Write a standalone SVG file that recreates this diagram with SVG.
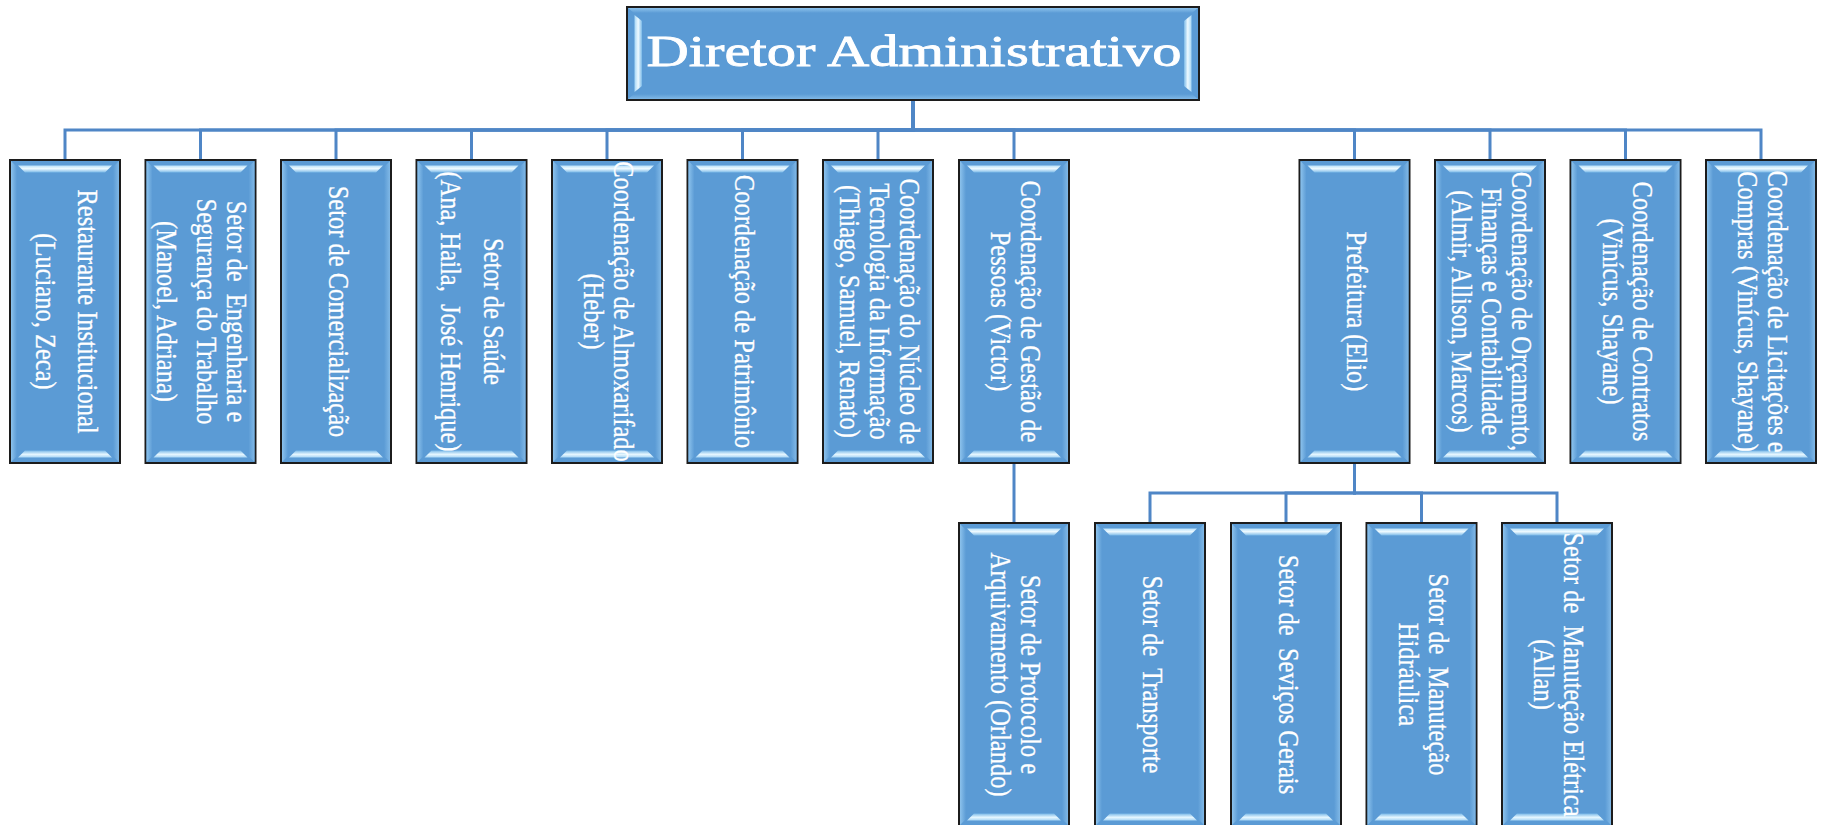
<svg xmlns="http://www.w3.org/2000/svg" xmlns:xlink="http://www.w3.org/1999/xlink" width="1825" height="825" viewBox="0 0 1825 825">
<style>
.bx{fill:#5B9BD5;stroke:#1c1c1c;stroke-width:2}
.t{font-family:"Liberation Serif","Times New Roman",serif;font-size:24.5px;fill:#ffffff;text-anchor:middle;stroke:#ffffff;stroke-width:0.25}
.title{font-family:"Liberation Serif","Times New Roman",serif;font-size:44px;fill:#ffffff;stroke:#ffffff;stroke-width:0.8}
.cn{fill:none;stroke:#4F86C6;stroke-width:3}
</style>
<defs>
<linearGradient id="gL" x1="0" y1="0" x2="1" y2="0"><stop offset="0" stop-color="#8cc2ec"/><stop offset="1" stop-color="#5B9BD5"/></linearGradient>
<linearGradient id="gR" x1="0" y1="0" x2="1" y2="0"><stop offset="0" stop-color="#5B9BD5"/><stop offset="1" stop-color="#80b8e6"/></linearGradient>
<linearGradient id="gT" x1="0" y1="0" x2="0" y2="1"><stop offset="0" stop-color="#b9e1fa"/><stop offset="0.45" stop-color="#eefaff"/><stop offset="1" stop-color="#7ab9e8"/></linearGradient>
<linearGradient id="gB" x1="0" y1="0" x2="0" y2="1"><stop offset="0" stop-color="#7ab9e8"/><stop offset="0.55" stop-color="#e6f7ff"/><stop offset="1" stop-color="#a9d6f5"/></linearGradient>
<linearGradient id="gHL" x1="0" y1="0" x2="1" y2="0"><stop offset="0" stop-color="#a5d6f6"/><stop offset="0.5" stop-color="#eefaff"/><stop offset="1" stop-color="#7ab9e8"/></linearGradient>
<linearGradient id="gHR" x1="0" y1="0" x2="1" y2="0"><stop offset="0" stop-color="#7ab9e8"/><stop offset="0.5" stop-color="#eefaff"/><stop offset="1" stop-color="#a5d6f6"/></linearGradient>
<linearGradient id="gHT" x1="0" y1="0" x2="0" y2="1"><stop offset="0" stop-color="#8cc2ec"/><stop offset="1" stop-color="#5B9BD5"/></linearGradient>
<linearGradient id="gHB" x1="0" y1="0" x2="0" y2="1"><stop offset="0" stop-color="#5B9BD5"/><stop offset="1" stop-color="#80b8e6"/></linearGradient>
<symbol id="vbox" viewBox="0 0 112 305" overflow="visible">
<rect x="1" y="1" width="110" height="303" class="bx"/>
<polygon points="2,2 8,8 8,297 2,303" fill="url(#gL)"/>
<polygon points="110,2 104,8 104,297 110,303" fill="url(#gR)"/>
<polygon points="9,6.5 103,6.5 96,13.5 16,13.5" fill="url(#gT)"/>
<polygon points="16,291.5 96,291.5 103,298.5 9,298.5" fill="url(#gB)"/>
</symbol>
<symbol id="hbox" viewBox="0 0 574 95" overflow="visible">
<rect x="1" y="1" width="572" height="93" class="bx"/>
<polygon points="2,2 572,2 566,7 8,7" fill="url(#gHT)"/>
<polygon points="8,88 566,88 572,93 2,93" fill="url(#gHB)"/>
<polygon points="8.5,9 16,15 16,80 8.5,86" fill="url(#gHL)"/>
<polygon points="565.5,9 558,15 558,80 565.5,86" fill="url(#gHR)"/>
</symbol>
</defs>
<rect x="0" y="0" width="1825" height="825" fill="#ffffff"/>

<g id="connectors">
<path class="cn" d="M913,101V130H65V159"/>
<path class="cn" d="M913,101V130H200.5V159"/>
<path class="cn" d="M913,101V130H336V159"/>
<path class="cn" d="M913,101V130H471.5V159"/>
<path class="cn" d="M913,101V130H607V159"/>
<path class="cn" d="M913,101V130H742.5V159"/>
<path class="cn" d="M913,101V130H878V159"/>
<path class="cn" d="M913,101V130H1014V159"/>
<path class="cn" d="M913,101V130H1354.5V159"/>
<path class="cn" d="M913,101V130H1490V159"/>
<path class="cn" d="M913,101V130H1625.5V159"/>
<path class="cn" d="M913,101V130H1761V159"/>
<path class="cn" d="M1014,464V522"/>
<path class="cn" d="M1354.5,464V493H1150V522"/>
<path class="cn" d="M1354.5,464V493H1286V522"/>
<path class="cn" d="M1354.5,464V493H1421.5V522"/>
<path class="cn" d="M1354.5,464V493H1557V522"/>
</g>

<g id="n0">
<use href="#hbox" x="626" y="6" width="574" height="95"/>
<text class="title" x="646.5" y="66" textLength="535" lengthAdjust="spacingAndGlyphs">Diretor Administrativo</text>
</g>

<g id="n1">
<use href="#vbox" x="9" y="159" width="112" height="305"/>
<text class="t" transform="translate(65 311.5) scale(1.2 1) rotate(90)"><tspan x="0" y="-11">Restaurante Institucional</tspan><tspan x="0" y="24">(Luciano, Zeca)</tspan></text>
</g>
<g id="n2">
<use href="#vbox" x="144.5" y="159" width="112" height="305"/>
<text class="t" transform="translate(200.5 311.5) scale(1.2 1) rotate(90)"><tspan x="0" y="-22">Setor de&#160; Engenharia e</tspan><tspan x="0" y="2.5">Segurança do Trabalho</tspan><tspan x="0" y="36">(Manoel, Adriana)</tspan></text>
</g>
<g id="n3">
<use href="#vbox" x="280" y="159" width="112" height="305"/>
<text class="t" transform="translate(336 311.5) scale(1.2 1) rotate(90)"><tspan x="0" y="6">Setor de Comercialização</tspan></text>
</g>
<g id="n4">
<use href="#vbox" x="415.5" y="159" width="112" height="305"/>
<text class="t" transform="translate(471.5 311.5) scale(1.2 1) rotate(90)"><tspan x="0" y="-10.5">Setor de Saúde</tspan><tspan x="0" y="25.5">(Ana, Haila,&#160; José Henrique)</tspan></text>
</g>
<g id="n5">
<use href="#vbox" x="551" y="159" width="112" height="305"/>
<text class="t" transform="translate(607 311.5) scale(1.2 1) rotate(90)"><tspan x="0" y="-6">Coordenação de Almoxarifado</tspan><tspan x="0" y="19">(Heber)</tspan></text>
</g>
<g id="n6">
<use href="#vbox" x="686.5" y="159" width="112" height="305"/>
<text class="t" transform="translate(742.5 311.5) scale(1.2 1) rotate(90)"><tspan x="0" y="6">Coordenação de Patrimônio</tspan></text>
</g>
<g id="n7">
<use href="#vbox" x="822" y="159" width="112" height="305"/>
<text class="t" transform="translate(878 311.5) scale(1.2 1) rotate(90)"><tspan x="0" y="-18.5">Coordenação do Núcleo de</tspan><tspan x="0" y="6.5">Tecnologia da Informação</tspan><tspan x="0" y="31.5">(Thiago, Samuel, Renato)</tspan></text>
</g>
<g id="n8">
<use href="#vbox" x="958" y="159" width="112" height="305"/>
<text class="t" transform="translate(1014 311.5) scale(1.2 1) rotate(90)"><tspan x="0" y="-6">Coordenação de Gestão de</tspan><tspan x="0" y="19">Pessoas (Victor)</tspan></text>
</g>
<g id="n9">
<use href="#vbox" x="1298.5" y="159" width="112" height="305"/>
<text class="t" transform="translate(1354.5 311.5) scale(1.2 1) rotate(90)"><tspan x="0" y="6">Prefeitura (Elio)</tspan></text>
</g>
<g id="n10">
<use href="#vbox" x="1434" y="159" width="112" height="305"/>
<text class="t" transform="translate(1490 311.5) scale(1.2 1) rotate(90)"><tspan x="0" y="-18.5">Coordenação de Orçamento,</tspan><tspan x="0" y="6.5">Finanças e Contabilidade</tspan><tspan x="0" y="31.5">(Almir, Allison, Marcos)</tspan></text>
</g>
<g id="n11">
<use href="#vbox" x="1569.5" y="159" width="112" height="305"/>
<text class="t" transform="translate(1625.5 311.5) scale(1.2 1) rotate(90)"><tspan x="0" y="-6">Coordenação de Contratos</tspan><tspan x="0" y="19">(Vinícus, Shayane)</tspan></text>
</g>
<g id="n12">
<use href="#vbox" x="1705" y="159" width="112" height="305"/>
<text class="t" transform="translate(1761 311.5) scale(1.2 1) rotate(90)"><tspan x="0" y="-6">Coordenação de Licitações e</tspan><tspan x="0" y="19">Compras (Vinícus, Shayane)</tspan></text>
</g>

<g id="n13">
<use href="#vbox" x="958" y="522" width="112" height="305"/>
<text class="t" transform="translate(1014 674.5) scale(1.2 1) rotate(90)"><tspan x="0" y="-6">Setor de Protocolo e</tspan><tspan x="0" y="19">Arquivamento (Orlando)</tspan></text>
</g>
<g id="n14">
<use href="#vbox" x="1094" y="522" width="112" height="305"/>
<text class="t" transform="translate(1150 674.5) scale(1.2 1) rotate(90)"><tspan x="0" y="6">Setor de&#160; Transporte</tspan></text>
</g>
<g id="n15">
<use href="#vbox" x="1230" y="522" width="112" height="305"/>
<text class="t" transform="translate(1286 674.5) scale(1.2 1) rotate(90)"><tspan x="0" y="6">Setor de&#160; Seviços Gerais</tspan></text>
</g>
<g id="n16">
<use href="#vbox" x="1365.5" y="522" width="112" height="305"/>
<text class="t" transform="translate(1421.5 674.5) scale(1.2 1) rotate(90)"><tspan x="0" y="-6">Setor de&#160; Manuteção</tspan><tspan x="0" y="19">Hidráulica</tspan></text>
</g>
<g id="n17">
<use href="#vbox" x="1501" y="522" width="112" height="305"/>
<text class="t" transform="translate(1557 674.5) scale(1.2 1) rotate(90)"><tspan x="0" y="-6">Setor de&#160; Manuteção Elétrica</tspan><tspan x="0" y="19">(Allan)</tspan></text>
</g>
</svg>
